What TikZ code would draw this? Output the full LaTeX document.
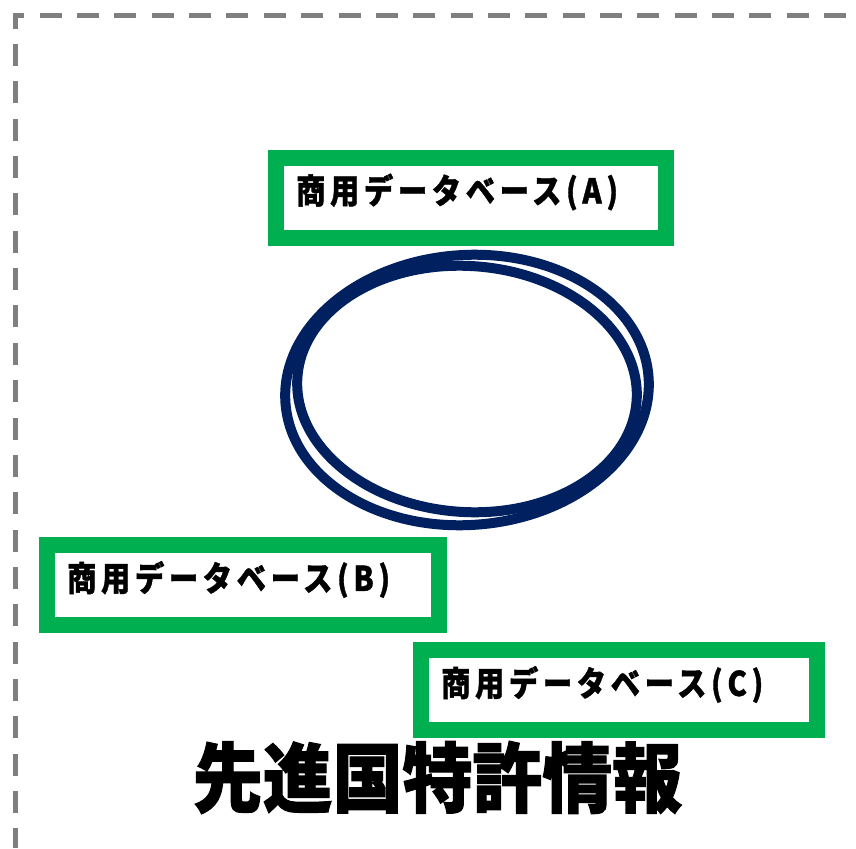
\documentclass[tikz,border=0pt]{standalone}
\usepackage{fontspec}
\newfontfamily\cjk{Noto Sans CJK JP}[BoldFeatures={FakeBold=1.5}]
\newfontfamily\cjkwide{Noto Sans CJK JP}[LetterSpace=16,BoldFeatures={FakeBold=1.2}]
\definecolor{dashgray}{HTML}{7F7F7F}
\definecolor{dbgreen}{HTML}{00B050}
\definecolor{ringblue}{HTML}{002060}
\begin{document}
\begin{tikzpicture}[x=1pt,y=-1pt,
	frame/.style={draw=dashgray,line width=5pt,dash pattern=on 22pt off 15.35pt,dash phase=2.35pt},
	dbbox/.style={draw=dbgreen,line width=16pt,rectangle,inner sep=0,outer sep=0,minimum height=80pt},
	dblabel/.style={inner sep=0,anchor=west,font=\cjkwide\bfseries\fontsize{34}{34}\selectfont},
	ring/.style={draw=ringblue,line width=10pt}]
	\useasboundingbox (0,0) rectangle (856,848);
	%Rahmen
	\draw[frame] (15.5,848)--(15.5,15.5)--(856,15.5);
	%Kasten
	\node[dbbox,minimum width=390pt] (dbA) at (471,197.5) {};
	\node[dbbox,minimum width=392pt] (dbB) at (243,585) {};
	\node[dbbox,minimum width=396pt] (dbC) at (619,690) {};
	\node[dblabel] (labA) at ([shift={(20pt,5.5pt)}]dbA.west) {\scalebox{0.86}[1]{商用データベース(A)}};
	\node[dblabel] (labB) at ([shift={(20pt,5.5pt)}]dbB.west) {\scalebox{0.86}[1]{商用データベース(B)}};
	\node[dblabel] (labC) at ([shift={(20pt,5.5pt)}]dbC.west) {\scalebox{0.86}[1]{商用データベース(C)}};
	%Ring
	\draw[ring] (467,390) ellipse[x radius=182,y radius=135,rotate=4];
	\draw[ring] (467,389) ellipse[x radius=170,y radius=123,rotate=-4];
	%Titel
	\node[font=\cjk\bfseries\fontsize{76}{76}\selectfont,inner sep=0] (title) at (437.5,777.5) {\scalebox{0.92}[1]{先進国特許情報}};
\end{tikzpicture}
\end{document}
